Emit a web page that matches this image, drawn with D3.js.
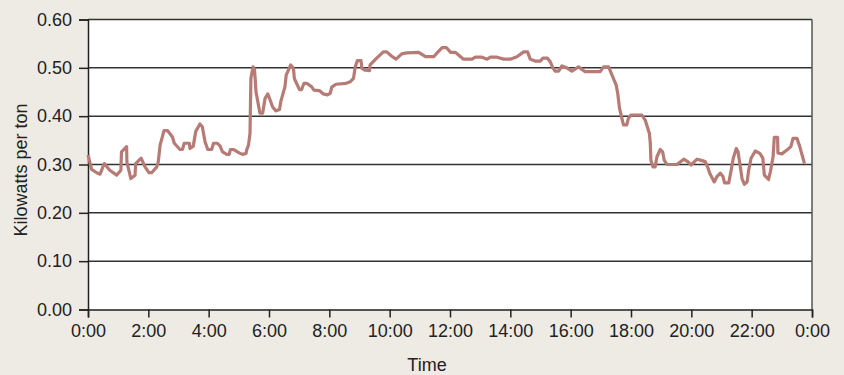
<!DOCTYPE html>
<html>
<head>
<meta charset="utf-8">
<script src="https://cdn.jsdelivr.net/npm/d3@7"></script>
<style>
  body { margin: 0; background: #eeeae4; }
  svg { display: block; }
  text { font-family: "Liberation Sans", Arial, sans-serif; fill: #222; }
</style>
</head>
<body>
<div id="chart"></div>
<script>
// time of day in hours
var hours = [0, 0.12, 0.29, 0.40, 0.54, 0.72, 0.95, 1.09, 1.11, 1.28, 1.29, 1.42, 1.56, 1.58, 1.76, 1.89, 2.02, 2.11, 2.28, 2.33, 2.39, 2.52, 2.64, 2.80, 2.86, 3.05, 3.13, 3.19, 3.36, 3.38, 3.49, 3.57, 3.71, 3.79, 3.88, 3.97, 4.10, 4.16, 4.29, 4.38, 4.46, 4.60, 4.68, 4.72, 4.83, 5.01, 5.12, 5.24, 5.26, 5.32, 5.37, 5.40, 5.47, 5.52, 5.57, 5.70, 5.79, 5.87, 5.96, 6.04, 6.12, 6.23, 6.35, 6.39, 6.53, 6.57, 6.72, 6.81, 6.84, 7.01, 7.08, 7.16, 7.25, 7.41, 7.49, 7.67, 7.80, 7.94, 8.03, 8.08, 8.22, 8.56, 8.69, 8.80, 8.86, 8.93, 9.05, 9.08, 9.19, 9.33, 9.35, 9.57, 9.79, 9.90, 10.07, 10.21, 10.40, 10.57, 10.96, 11.19, 11.46, 11.59, 11.74, 11.88, 12.02, 12.18, 12.35, 12.45, 12.73, 12.84, 13.06, 13.23, 13.34, 13.56, 13.78, 14.00, 14.22, 14.44, 14.57, 14.66, 14.82, 14.99, 15.08, 15.23, 15.32, 15.41, 15.49, 15.60, 15.71, 15.87, 16.04, 16.26, 16.48, 16.98, 17.09, 17.26, 17.37, 17.51, 17.56, 17.62, 17.75, 17.86, 17.91, 17.99, 18.36, 18.47, 18.61, 18.64, 18.66, 18.73, 18.80, 18.86, 18.97, 19.05, 19.10, 19.19, 19.52, 19.75, 19.88, 19.99, 20.19, 20.30, 20.46, 20.54, 20.61, 20.76, 20.85, 20.96, 21.05, 21.10, 21.24, 21.32, 21.39, 21.49, 21.55, 21.64, 21.68, 21.76, 21.85, 21.90, 21.98, 22.12, 22.27, 22.37, 22.42, 22.56, 22.62, 22.71, 22.75, 22.86, 22.87, 23.00, 23.19, 23.30, 23.37, 23.50, 23.59, 23.75];

// kilowatts per ton
var kwPerTon = [0.320, 0.290, 0.283, 0.280, 0.302, 0.288, 0.278, 0.288, 0.326, 0.337, 0.305, 0.271, 0.278, 0.302, 0.313, 0.295, 0.283, 0.283, 0.295, 0.306, 0.340, 0.370, 0.370, 0.357, 0.344, 0.331, 0.331, 0.344, 0.344, 0.333, 0.338, 0.368, 0.384, 0.378, 0.347, 0.331, 0.331, 0.344, 0.344, 0.338, 0.326, 0.321, 0.321, 0.331, 0.331, 0.324, 0.321, 0.323, 0.330, 0.340, 0.364, 0.478, 0.502, 0.497, 0.450, 0.406, 0.406, 0.437, 0.446, 0.433, 0.419, 0.411, 0.414, 0.430, 0.461, 0.485, 0.506, 0.499, 0.478, 0.455, 0.455, 0.468, 0.468, 0.461, 0.454, 0.453, 0.446, 0.444, 0.447, 0.460, 0.466, 0.468, 0.471, 0.478, 0.502, 0.515, 0.515, 0.499, 0.495, 0.494, 0.506, 0.520, 0.533, 0.533, 0.524, 0.518, 0.529, 0.531, 0.532, 0.523, 0.523, 0.532, 0.542, 0.542, 0.532, 0.532, 0.523, 0.518, 0.518, 0.522, 0.522, 0.518, 0.522, 0.522, 0.518, 0.518, 0.523, 0.533, 0.533, 0.518, 0.514, 0.514, 0.520, 0.520, 0.513, 0.500, 0.493, 0.493, 0.504, 0.500, 0.493, 0.502, 0.492, 0.492, 0.502, 0.502, 0.485, 0.464, 0.447, 0.416, 0.382, 0.382, 0.395, 0.402, 0.402, 0.392, 0.364, 0.344, 0.309, 0.295, 0.295, 0.316, 0.331, 0.326, 0.309, 0.300, 0.300, 0.311, 0.306, 0.299, 0.311, 0.309, 0.306, 0.295, 0.282, 0.264, 0.275, 0.282, 0.275, 0.262, 0.262, 0.288, 0.313, 0.333, 0.326, 0.288, 0.271, 0.259, 0.264, 0.288, 0.313, 0.328, 0.323, 0.313, 0.278, 0.269, 0.285, 0.316, 0.356, 0.356, 0.324, 0.322, 0.331, 0.337, 0.354, 0.354, 0.338, 0.302];

var xTickHours = [0, 2, 4, 6, 8, 10, 12, 14, 16, 18, 20, 22, 24];
var xTickLabels = ["0:00", "2:00", "4:00", "6:00", "8:00", "10:00", "12:00", "14:00", "16:00", "18:00", "20:00", "22:00", "0:00"];
var yTicks = [0, 0.1, 0.2, 0.3, 0.4, 0.5, 0.6];

var width = 844;
var height = 375;
var padding = {top: 19.5, right: 32, bottom: 65.5, left: 88};
var chartArea = {
  width: width - padding.left - padding.right,
  height: height - padding.top - padding.bottom
};

var svg = d3.select("#chart")
  .append("svg")
  .attr("width", width)
  .attr("height", height);

var xScale = d3.scaleLinear().domain([0, 24]).range([0, chartArea.width]);
var yScale = d3.scaleLinear().domain([0, 0.6]).range([chartArea.height, 0]);

var g = svg.append("g")
  .attr("transform", "translate(" + padding.left + "," + padding.top + ")");

// white plot area
g.append("rect")
  .attr("width", chartArea.width)
  .attr("height", chartArea.height)
  .attr("fill", "#fff");

// horizontal grid lines
g.selectAll(".grid")
  .data(yTicks.slice(1))
  .enter()
  .append("line")
  .attr("x1", 0)
  .attr("x2", chartArea.width)
  .attr("y1", function(d) { return yScale(d); })
  .attr("y2", function(d) { return yScale(d); })
  .attr("stroke", "#333")
  .attr("stroke-width", 1.5);

// right border
g.append("line")
  .attr("x1", chartArea.width).attr("x2", chartArea.width)
  .attr("y1", 0).attr("y2", chartArea.height)
  .attr("stroke", "#555")
  .attr("stroke-width", 1.5);

// axes
var yAxis = g.append("g")
  .call(d3.axisLeft(yScale).tickValues(yTicks).tickSize(9).tickPadding(7)
    .tickFormat(d3.format(".2f")));

var xAxis = g.append("g")
  .attr("transform", "translate(0," + chartArea.height + ")")
  .call(d3.axisBottom(xScale).tickValues(xTickHours).tickSize(8).tickPadding(7)
    .tickFormat(function(d, i) { return xTickLabels[i]; }));

[xAxis, yAxis].forEach(function(ax) {
  ax.select(".domain").attr("stroke", "#222").attr("stroke-width", 1.5);
  ax.selectAll(".tick line").attr("stroke", "#222").attr("stroke-width", 1.5);
  ax.selectAll("text").style("font-size", "18px").attr("fill", "#222");
});

// the line
var line = d3.line()
  .x(function(d, i) { return xScale(hours[i]); })
  .y(function(d) { return yScale(d); });

g.append("path")
  .datum(kwPerTon)
  .attr("d", line)
  .attr("fill", "none")
  .attr("stroke", "#b77b76")
  .attr("stroke-width", 3.2)
  .attr("stroke-linejoin", "round");

// axis titles
svg.append("text")
  .attr("x", 427)
  .attr("y", 371)
  .style("text-anchor", "middle")
  .style("font-size", "18px")
  .text("Time");

svg.append("text")
  .attr("transform", "rotate(-90)")
  .attr("x", -170)
  .attr("y", 27)
  .style("text-anchor", "middle")
  .style("font-size", "18px")
  .text("Kilowatts per ton");
</script>
</body>
</html>
